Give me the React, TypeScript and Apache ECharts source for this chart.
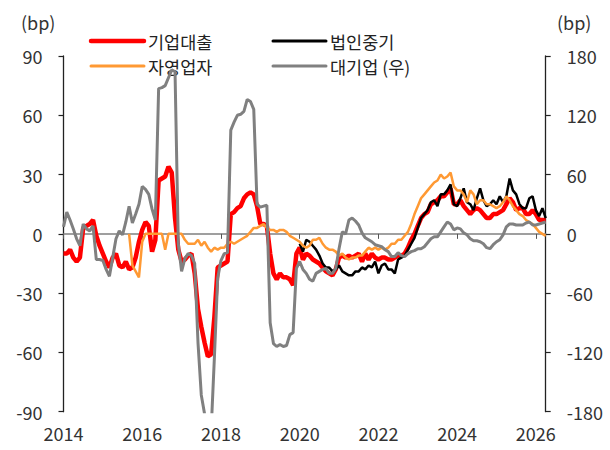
import { useEffect, useRef } from "react";
import * as echarts from "echarts";

// monthly data, 2014-01 .. 2026-04 (148 points)
const START_YEAR = 2014;
const yearTicks = [2014, 2016, 2018, 2020, 2022, 2024, 2026];

// 기업대출 (left axis, bp)
const corpLoans = [
  -10, -10, -8, -12, -14, -12, 3, 4, 5, 7,
  -1, -6, -10, -14, -17, -12, -10, -16, -17, -14,
  -18, -17, -12, -4, 2, 6, 4, -9, -3, 27,
  28, 29, 34, 31, 8, -8, -14, -13, -11, -10,
  -20, -38, -47, -55, -62, -61, -42, -17, -16, -15,
  -14, 10, 11, 13, 14, 18, 20, 21, 20, 14,
  5, 5, 4, -10, -20, -23, -20, -22, -22, -23,
  -26, -10, -7, -13, -10, -11, -13, -14, -15, -17,
  -19, -20, -21, -18, -12, -11, -12, -11, -12, -11,
  -10, -14, -10, -13, -10, -12, -13, -12, -12, -13,
  -13, -12, -11, -11, -10, -7, -3, 0, 4, 8,
  10, 11, 15, 16, 17, 19, 19, 21, 23, 15,
  15, 17, 14, 12, 10, 12, 13, 12, 10, 8,
  8, 10, 10, 11, 12, 15, 18, 16, 12, 13,
  13, 10, 10, 12, 10, 7, 7, 7,
];

// 법인중기 (left axis, bp) — from 2020-01
const smeCorp = [
  ...Array(72).fill(null),
  -5, -9, -3, -4, -6, -8, -11, -15,
  -17, -17, -19, -18, -16, -19, -20, -21, -21, -19,
  -19, -17, -18, -16, -17, -14, -20, -16, -15, -18,
  -18, -20, -13, -12, -11, -8, -5, -2, 3, 8,
  10, 12, 16, 17, 14, 20, 20, 22, 25, 15,
  14, 18, 23, 16, 15, 12, 18, 23, 17, 14,
  15, 17, 15, 19, 16, 19, 28, 22, 20, 15,
  13, 13, 18, 19, 12, 9, 13, 8,
];

// 자영업자 (left axis, bp) — from 2015-09
const selfEmployed = [
  ...Array(20).fill(null),
  0, -16, -19, -22, -4, 0, 0, 0, 0, 0,
  0, -8, 0, 0, 0, 0, 0, -3, -5, -5,
  -5, -3, -6, -4, -7, -9, -7, -8, -7, -7,
  -5, -4, -5, -4, -3, -2, -1, 1, 3, 3,
  4, 5, 3, 2, 2, 1, 2, 2, 1, -1,
  -2, -3, -4, -6, -7, -6, -3, -3, -2, -5,
  -7, -8, -8, -9, -11, -10, -12, -13, -12, -12,
  -11, -11, -9, -7, -8, -7, -8, -7, -8, -7,
  -5, -5, -3, -3, -1, 1, 5, 10, 14, 18,
  20, 22, 24, 26, 27, 30, 28, 29, 31, 24,
  22, 22, 20, 16, 22, 20, 15, 17, 17, 15,
  15, 14, 13, 14, 16, 19, 17, 14, 12, 10,
  9, 7, 6, 5, 3, 1, 0, -1,
];

// 대기업 (우) (right axis, bp)
const largeCorp = [
  7, 22, 14, 5, -5, -12, 10, 5, 3, 8,
  -26, -26, -27, -36, -43, -24, -5, 3, -1, 12,
  28, 11, 20, 30, 48, 45, 40, 25, 14, 147,
  148, 150, 158, 166, 164, -10, -38, -25, -20, -22,
  -30, -110, -163, -182, -200, -200, -125, -45, -27, -20,
  -19, 105, 113, 120, 121, 124, 136, 134, 126, 30,
  27, 28, 29, -90, -111, -114, -112, -114, -113, -102,
  -100, -35, -28, -36, -40, -46, -48, -40, -38, -36,
  -35, -40, -40, -35, -15, 2, 0, 14, 16, 13,
  9, 1, -4, -6, -8, -11, -12, -13, -16, -18,
  -23, -23, -19, -22, -23, -20, -18, -17, -15, -15,
  -13, -9, -5, -3, -3, 2, 7, 12, 10, 4,
  6, 5, 1, -1, -5, -7, -7, -8, -10, -14,
  -15, -11, -8, -6, -1, 7, 10, 10, 9, 9,
  9, 11, 12, 9, 9, 10, 11, 12,
];

const seriesNames = ["기업대출", "법인중기", "자영업자", "대기업 (우)"];
const seriesColors = ["#ff0000", "#000000", "#ff9933", "#808080"];
const seriesWidths = [4.5, 2.5, 2.5, 3];

const FONT = "'Noto Sans CJK KR', 'Noto Sans', sans-serif";
const TEXT = "#333333";

function toPairs(values: (number | null)[]) {
  const out: [number, number][] = [];
  values.forEach((v, i) => {
    if (v !== null && v !== undefined) out.push([START_YEAR + i / 12, v]);
  });
  return out;
}

export default function App() {
  const ref = useRef<HTMLDivElement>(null);

  useEffect(() => {
    if (!ref.current) return;
    const chart = echarts.init(ref.current, null, { renderer: "svg" });
    const xMax = START_YEAR + (corpLoans.length - 1) / 12;

    const baseLabel = { fontFamily: FONT, fontSize: 18, color: TEXT };

    // legend drawn as graphic: 2 x 2 layout
    const legendPos = [
      { x: 91, y: 41 },
      { x: 273, y: 41 },
      { x: 91, y: 66 },
      { x: 273, y: 66 },
    ];
    const legendGraphics: any[] = [];
    seriesNames.forEach((name, i) => {
      const p = legendPos[i];
      legendGraphics.push({
        type: "line",
        shape: { x1: p.x, y1: p.y, x2: p.x + 53, y2: p.y },
        style: { stroke: seriesColors[i], lineWidth: i === 0 ? 4.5 : 3, lineCap: "round" },
        silent: true,
      });
      legendGraphics.push({
        type: "text",
        x: p.x + 57,
        y: p.y,
        style: {
          text: name,
          fontFamily: FONT,
          fontSize: 17.5,
          fill: "#222",
          verticalAlign: "middle",
          align: "left",
        },
        silent: true,
      });
    });

    const valueSets = [corpLoans, smeCorp, selfEmployed, largeCorp];

    chart.setOption({
      animation: false,
      textStyle: { fontFamily: FONT },
      grid: { left: 63.5, right: 64.3, top: 56, bottom: 38.3 },
      xAxis: [
        {
          type: "value",
          min: START_YEAR,
          max: xMax,
          interval: 2,
          position: "bottom",
          axisLine: { show: false },
          axisTick: { show: false },
          splitLine: { show: false },
          axisLabel: {
            ...baseLabel,
            margin: 12,
            customValues: yearTicks,
            formatter: (v: number) => (Number.isInteger(v) && v % 2 === 0 ? String(v) : ""),
          },
        },
        {
          type: "value",
          min: START_YEAR,
          max: xMax,
          interval: 2,
          position: "top",
          axisLine: { show: true, onZero: true, onZeroAxisIndex: 0, lineStyle: { color: "#808080", width: 1.5 } },
          axisTick: {
            show: true,
            inside: true,
            length: 5,
            customValues: yearTicks,
            lineStyle: { color: "#555", width: 1 },
          },
          axisLabel: { show: false },
          splitLine: { show: false },
        },
      ],
      yAxis: [
        {
          type: "value",
          min: -90,
          max: 90,
          interval: 30,
          position: "left",
          axisLine: { show: true, onZero: false, lineStyle: { color: "#222", width: 1.3 } },
          axisTick: { show: true, length: 5, lineStyle: { color: "#222", width: 1.2 } },
          splitLine: { show: false },
          axisLabel: { ...baseLabel, margin: 21 },
        },
        {
          type: "value",
          min: -180,
          max: 180,
          interval: 60,
          position: "right",
          axisLine: { show: true, onZero: false, lineStyle: { color: "#222", width: 1.3 } },
          axisTick: { show: true, length: 5, lineStyle: { color: "#222", width: 1.2 } },
          splitLine: { show: false },
          axisLabel: { ...baseLabel, margin: 21 },
        },
      ],
      graphic: [
        { type: "text", left: 21, top: 13, style: { text: "(bp)", fontFamily: FONT, fontSize: 18, fill: TEXT } },
        { type: "text", left: 557, top: 13, style: { text: "(bp)", fontFamily: FONT, fontSize: 18, fill: TEXT } },
        ...legendGraphics,
      ],
      series: seriesNames.map((name, i) => ({
        name,
        type: "line",
        xAxisIndex: 0,
        yAxisIndex: i === 3 ? 1 : 0,
        data: toPairs(valueSets[i]),
        symbol: "none",
        showSymbol: false,
        lineStyle: { color: seriesColors[i], width: seriesWidths[i] },
        itemStyle: { color: seriesColors[i] },
        z: 2 + i,
      })),
    });

    return () => chart.dispose();
  }, []);

  return (
    <div
      ref={ref}
      style={{ position: "absolute", left: 0, top: 0, width: 610, height: 450 }}
    />
  );
}
